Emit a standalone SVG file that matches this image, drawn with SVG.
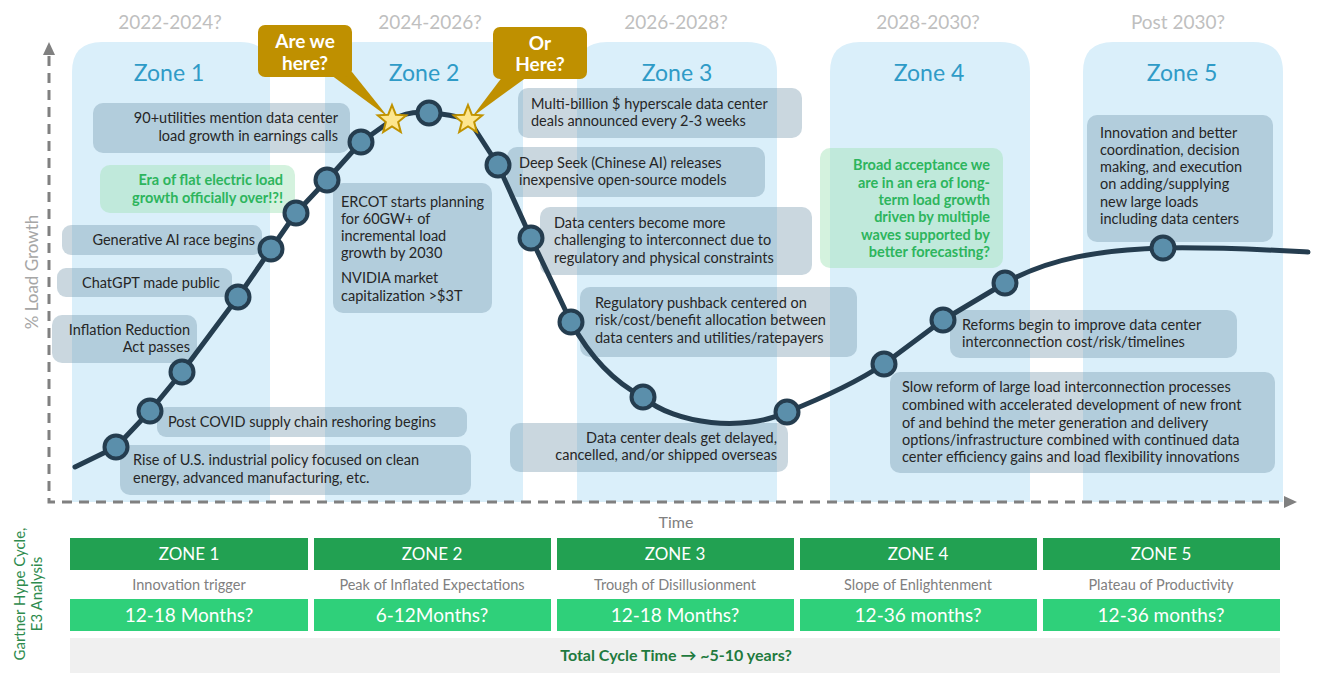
<svg xmlns="http://www.w3.org/2000/svg" width="1325" height="691" viewBox="0 0 1325 691">
<style>
text{font-family:Lato,"Open Sans","Liberation Sans",sans-serif}
.col{fill:#daeffa}
.yr{font-size:19px;fill:#bfbfbf;text-anchor:middle}
.zn{font-size:23px;fill:#2f9bc7;text-anchor:middle}
.box{fill:#6d8fa5;fill-opacity:.36}
.gbox{fill:#9fe2b6;fill-opacity:.45}
.t{font-size:14.5px;fill:#262626}
.g{font-size:14.5px;fill:#2db55d;font-weight:bold}
.e{text-anchor:end}
.axis{stroke:#808080;stroke-width:3;stroke-dasharray:10 7;fill:none}
.curve{stroke:#253d4f;stroke-width:5;fill:none;stroke-linejoin:round;stroke-linecap:round}
.dot{fill:#5b8fab;stroke:#253d4f;stroke-width:4}
.star{fill:#fde68e;stroke:#c09300;stroke-width:2}
.call{fill:#bf9000}
.ct{font-size:19px;font-weight:bold;fill:#fff;text-anchor:middle}
.hd{fill:#22a152}
.mo{fill:#2fd07a}
.ht{font-size:17px;fill:#fff;text-anchor:middle}
.st{font-size:14.5px;fill:#808080;text-anchor:middle}
.mt{font-size:19px;fill:#fff;text-anchor:middle}
.lab{font-size:17px;fill:#a6a6a6;text-anchor:middle}
</style>
<defs>
<polygon id="starShape" points="0,-15 3.82,-5.26 14.27,-4.64 6.18,2.01 8.82,12.14 0,6.5 -8.82,12.14 -6.18,2.01 -14.27,-4.64 -3.82,-5.26"/>
</defs>
<rect width="1325" height="691" fill="#fff"/>

<g id="zones">
<path class="col" d="M72,502 V72 Q72,42 102,42 H240 Q270,42 270,72 V502 Z"/>
<path class="col" d="M325,502 V72 Q325,42 355,42 H493 Q523,42 523,72 V502 Z"/>
<path class="col" d="M577,502 V72 Q577,42 607,42 H747 Q777,42 777,72 V502 Z"/>
<path class="col" d="M830,502 V72 Q830,42 860,42 H1000 Q1030,42 1030,72 V502 Z"/>
<path class="col" d="M1083,502 V72 Q1083,42 1113,42 H1253 Q1283,42 1283,72 V502 Z"/>
<text class="yr" x="170" y="29">2022-2024?</text>
<text class="yr" x="430" y="29">2024-2026?</text>
<text class="yr" x="676" y="29">2026-2028?</text>
<text class="yr" x="928" y="29">2028-2030?</text>
<text class="yr" x="1178" y="29">Post 2030?</text>
<text class="zn" x="169" y="81">Zone 1</text>
<text class="zn" x="424" y="81">Zone 2</text>
<text class="zn" x="677" y="81">Zone 3</text>
<text class="zn" x="929" y="81">Zone 4</text>
<text class="zn" x="1182" y="81">Zone 5</text>
</g>

<g id="axes">
<path class="axis" d="M49,56 V502 H1284"/>
<polygon points="49,42 43,55 55,55" fill="#808080"/>
<polygon points="1297,502 1284,496 1284,508" fill="#808080"/>
<text class="lab" transform="translate(38,272) rotate(-90)">% Load Growth</text>
<text class="lab" x="676" y="528" style="font-size:16px;fill:#808080">Time</text>
</g>

<g id="n1"><rect class="box" x="93" y="103" width="257" height="50" rx="10"/><text class="t e" x="338" y="123">90+utilities mention data center</text><text class="t e" x="338" y="141">load growth in earnings calls</text></g>
<g id="n2"><rect class="gbox" x="100" y="165" width="195" height="48" rx="10"/><text class="g e" x="283" y="185">Era of flat electric load</text><text class="g e" x="283" y="203">growth officially over!?!</text></g>
<g id="n3"><rect class="box" x="62" y="225" width="200" height="30" rx="9"/><text class="t e" x="255" y="245">Generative AI race begins</text></g>
<g id="n4"><rect class="box" x="57" y="268" width="175" height="29" rx="9"/><text class="t e" x="220" y="288">ChatGPT made public</text></g>
<g id="n5"><rect class="box" x="52" y="315" width="145" height="48" rx="10"/><text class="t e" x="190" y="335">Inflation Reduction</text><text class="t e" x="190" y="352">Act passes</text></g>
<g id="n6"><rect class="box" x="157" y="407" width="310" height="30" rx="9"/><text class="t" x="168" y="427">Post COVID supply chain reshoring begins</text></g>
<g id="n7"><rect class="box" x="120" y="445" width="351" height="50" rx="10"/><text class="t" x="133" y="465">Rise of U.S. industrial policy focused on clean</text><text class="t" x="133" y="483">energy, advanced manufacturing, etc.</text></g>
<g id="n8"><rect class="box" x="333" y="183" width="159" height="130" rx="10"/><text class="t" x="341" y="207">ERCOT starts planning</text><text class="t" x="341" y="224">for 60GW+ of</text><text class="t" x="341" y="241">incremental load</text><text class="t" x="341" y="258">growth by 2030</text><text class="t" x="341" y="283">NVIDIA market</text><text class="t" x="341" y="301">capitalization &gt;$3T</text></g>
<g id="n9"><rect class="box" x="518" y="88" width="284" height="50" rx="10"/><text class="t" x="531" y="109">Multi-billion $ hyperscale data center</text><text class="t" x="531" y="126">deals announced every 2-3 weeks</text></g>
<g id="n10"><rect class="box" x="507" y="147" width="258" height="50" rx="10"/><text class="t" x="519" y="168">Deep Seek (Chinese AI) releases</text><text class="t" x="519" y="185">inexpensive open-source models</text></g>
<g id="n11"><rect class="box" x="540" y="207" width="272" height="68" rx="10"/><text class="t" x="554" y="228">Data centers become more</text><text class="t" x="554" y="245">challenging to interconnect due to</text><text class="t" x="554" y="263">regulatory and physical constraints</text></g>
<g id="n12"><rect class="box" x="580" y="287" width="277" height="70" rx="10"/><text class="t" x="595" y="308">Regulatory pushback centered on</text><text class="t" x="595" y="325">risk/cost/benefit allocation between</text><text class="t" x="595" y="343">data centers and utilities/ratepayers</text></g>
<g id="n13"><rect class="box" x="510" y="423" width="278" height="49" rx="10"/><text class="t e" x="777" y="443">Data center deals get delayed,</text><text class="t e" x="777" y="460">cancelled, and/or shipped overseas</text></g>
<g id="n14"><rect class="gbox" x="820" y="148" width="183" height="120" rx="10"/><text class="g e" x="990" y="170">Broad acceptance we</text><text class="g e" x="990" y="188">are in an era of long-</text><text class="g e" x="990" y="205">term load growth</text><text class="g e" x="990" y="222">driven by multiple</text><text class="g e" x="990" y="240">waves supported by</text><text class="g e" x="990" y="257">better forecasting?</text></g>
<g id="n15"><rect class="box" x="1087" y="115" width="186" height="127" rx="10"/><text class="t" x="1100" y="138">Innovation and better</text><text class="t" x="1100" y="155">coordination, decision</text><text class="t" x="1100" y="172">making, and execution</text><text class="t" x="1100" y="189">on adding/supplying</text><text class="t" x="1100" y="207">new large loads</text><text class="t" x="1100" y="224">including data centers</text></g>
<g id="n16"><rect class="box" x="950" y="310" width="287" height="48" rx="10"/><text class="t" x="962" y="330">Reforms begin to improve data center</text><text class="t" x="962" y="347">interconnection cost/risk/timelines</text></g>
<g id="n17"><rect class="box" x="890" y="372" width="385" height="101" rx="10"/><text class="t" x="902" y="392">Slow reform of large load interconnection processes</text><text class="t" x="902" y="410">combined with accelerated development of new front</text><text class="t" x="902" y="428">of and behind the meter generation and delivery</text><text class="t" x="902" y="445">options/infrastructure combined with continued data</text><text class="t" x="902" y="462">center efficiency gains and load flexibility innovations</text></g>

<g id="connectors">
<path class="curve" d="M75,467 L116,447 L150,411 L182,372 L238,297 L271,249 L296,213 L327,180 L361,142 L392,120 Q410,110 429,113 Q450,114 469,120 L498,165 L531,238 L571,322 Q600,375 643,397 C675,425 745,432 787,412 C830,395 860,380 884,364 L943,320 L1005,283 C1050,258 1100,250 1163,248 C1220,247 1270,250 1308,252"/>
</g>

<g id="points">
<circle class="dot" cx="116" cy="447" r="11.5"/>
<circle class="dot" cx="150" cy="411" r="11.5"/>
<circle class="dot" cx="182" cy="372" r="11.5"/>
<circle class="dot" cx="238" cy="297" r="11.5"/>
<circle class="dot" cx="271" cy="249" r="11.5"/>
<circle class="dot" cx="296" cy="213" r="11.5"/>
<circle class="dot" cx="327" cy="180" r="11.5"/>
<circle class="dot" cx="361" cy="142" r="11.5"/>
<circle class="dot" cx="429" cy="113" r="11.5"/>
<circle class="dot" cx="498" cy="165" r="11.5"/>
<circle class="dot" cx="531" cy="238" r="11.5"/>
<circle class="dot" cx="571" cy="322" r="11.5"/>
<circle class="dot" cx="643" cy="397" r="11.5"/>
<circle class="dot" cx="787" cy="412" r="11.5"/>
<circle class="dot" cx="884" cy="364" r="11.5"/>
<circle class="dot" cx="943" cy="320" r="11.5"/>
<circle class="dot" cx="1005" cy="283" r="11.5"/>
<circle class="dot" cx="1163" cy="248" r="11.5"/>
</g>

<g id="callout1">
<polygon class="call" points="331,75 352,72 388,117"/>
<rect class="call" x="258" y="25" width="94" height="52" rx="7"/>
<use href="#starShape" class="star" x="392" y="120"/>
<text class="ct" x="305" y="48">Are we</text>
<text class="ct" x="305" y="70">here?</text>
</g>
<g id="callout2">
<polygon class="call" points="503,76 527,77 472,117"/>
<rect class="call" x="493" y="27" width="94" height="52" rx="7"/>
<use href="#starShape" class="star" x="468" y="120"/>
<text class="ct" x="540" y="50">Or</text>
<text class="ct" x="540" y="71">Here?</text>
</g>

<g id="table">
<text font-size="15" fill="#2e8b4e" text-anchor="middle" transform="translate(25,594) rotate(-90)">Gartner Hype Cycle,</text>
<text font-size="15" fill="#2e8b4e" text-anchor="middle" transform="translate(42,594) rotate(-90)">E3 Analysis</text>
<rect class="hd" x="70" y="538" width="238" height="32"/>
<rect class="hd" x="314" y="538" width="237" height="32"/>
<rect class="hd" x="557" y="538" width="237" height="32"/>
<rect class="hd" x="800" y="538" width="237" height="32"/>
<rect class="hd" x="1043" y="538" width="237" height="32"/>
<text class="ht" x="189" y="560">ZONE 1</text>
<text class="ht" x="432" y="560">ZONE 2</text>
<text class="ht" x="675" y="560">ZONE 3</text>
<text class="ht" x="918" y="560">ZONE 4</text>
<text class="ht" x="1161" y="560">ZONE 5</text>
<text class="st" x="189" y="590">Innovation trigger</text>
<text class="st" x="432" y="590">Peak of Inflated Expectations</text>
<text class="st" x="675" y="590">Trough of Disillusionment</text>
<text class="st" x="918" y="590">Slope of Enlightenment</text>
<text class="st" x="1161" y="590">Plateau of Productivity</text>
<rect class="mo" x="70" y="599" width="238" height="32"/>
<rect class="mo" x="314" y="599" width="237" height="32"/>
<rect class="mo" x="557" y="599" width="237" height="32"/>
<rect class="mo" x="800" y="599" width="237" height="32"/>
<rect class="mo" x="1043" y="599" width="237" height="32"/>
<text class="mt" x="189" y="622">12-18 Months?</text>
<text class="mt" x="432" y="622">6-12Months?</text>
<text class="mt" x="675" y="622">12-18 Months?</text>
<text class="mt" x="918" y="622">12-36 months?</text>
<text class="mt" x="1161" y="622">12-36 months?</text>
<rect x="70" y="638" width="1210" height="35" fill="#f0f0f0"/>
<text x="676" y="661" font-size="16" font-weight="bold" fill="#1f7a3e" text-anchor="middle">Total Cycle Time → ~5-10 years?</text>
</g>
</svg>
